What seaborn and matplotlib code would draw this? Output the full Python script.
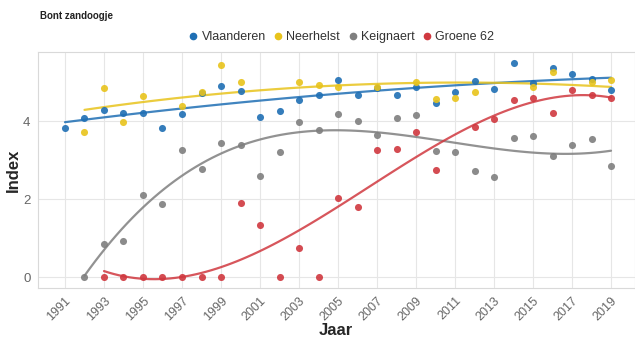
import numpy as np
import pandas as pd
import matplotlib
matplotlib.use("Agg")
import matplotlib.pyplot as plt
from matplotlib.lines import Line2D
import seaborn as sns

# Butterfly index per site, 1991-2019 (NaN = no count that year)
years = list(range(1991, 2020))
nan = np.nan

vlaanderen = [3.81, 4.08, 4.28, 4.21, 4.21, 3.83, 4.18, 4.71, 4.91, 4.77,
              4.11, 4.26, 4.54, 4.68, 5.05, 4.67, 4.85, 4.67, 4.88, 4.45,
              4.75, 5.03, 4.81, 5.49, 4.97, 5.37, 5.20, 5.08, 4.79]
neerhelst = [nan, 3.71, 4.84, 3.98, 4.65, nan, 4.38, 4.75, 5.44, 4.99,
             nan, nan, 5.01, 4.92, 4.86, nan, 4.88, nan, 5.01, 4.56,
             4.60, 4.74, nan, nan, 4.86, 5.26, nan, 4.99, 5.05]
keignaert = [nan, 0.00, 0.84, 0.93, 2.10, 1.86, 3.26, 2.77, 3.43, 3.38,
             2.59, 3.20, 3.98, 3.77, 4.17, 4.01, 3.64, 4.09, 4.15, 3.23,
             3.21, 2.72, 2.56, 3.57, 3.62, 3.10, 3.38, 3.54, 2.85]
groene62 = [nan, nan, 0.00, 0.00, 0.00, 0.00, 0.00, 0.00, 0.00, 1.91,
            1.33, 0.00, 0.75, 0.00, 2.02, 1.79, 3.26, 3.28, 3.73, 2.75,
            nan, 3.84, 4.04, 4.54, 4.60, 4.20, 4.79, 4.67, 4.60]

series_names = ["Vlaanderen", "Neerhelst", "Keignaert", "Groene 62"]
series_values = [vlaanderen, neerhelst, keignaert, groene62]
colors = ["#1f6fb4", "#e8c31c", "#7f7f7f", "#d0383f"]
fit_orders = [2, 2, 3, 3]

x_ticks = list(range(1991, 2020, 2))
y_ticks = [0, 2, 4]

df = pd.DataFrame({"Jaar": years})
for name, vals in zip(series_names, series_values):
    df[name] = vals

sns.set_theme(style="white")
plt.rcParams["font.family"] = ["Liberation Sans", "DejaVu Sans"]

fig = plt.figure(figsize=(6.35, 3.42), dpi=100)
ax = fig.add_axes([37.5 / 635, 1 - 288 / 342, (635 - 37.5) / 635, (288 - 52) / 342])

# Polynomial trend per site on top of the yearly points
for name, col, order in zip(series_names, colors, fit_orders):
    sns.regplot(data=df, x="Jaar", y=name, order=order, ci=None, ax=ax,
                color=col,
                scatter_kws=dict(s=26, alpha=0.9, linewidths=0, zorder=3),
                line_kws=dict(lw=1.6, alpha=0.85, zorder=2))

ax.set_xlim(1989.59, 2020.23)
ax.set_ylim(-0.282, 5.77)
ax.set_xticks(x_ticks)
ax.set_xticklabels([str(t) for t in x_ticks], rotation=45, ha="right",
                   rotation_mode="anchor", fontsize=9, color="#666666")
ax.set_yticks(y_ticks)
ax.set_yticklabels([str(t) for t in y_ticks], fontsize=9.5, color="#666666")
ax.grid(True, color="#e6e6e6", lw=0.8)
ax.set_axisbelow(True)
for sp in ax.spines.values():
    sp.set_color("#d9d9d9")
    sp.set_linewidth(0.8)
ax.tick_params(axis="both", length=3, width=0.7, color="#cccccc", pad=2)

ax.set_xlabel("Jaar", fontsize=12, fontweight="bold", labelpad=0)
ax.set_ylabel("Index", fontsize=12, fontweight="bold", labelpad=2)

fig.text(40 / 635, 1 - 16 / 342, "Bont zandoogje", fontsize=7,
         fontweight="bold", va="center", ha="left", color="#222222")

handles = [Line2D([0], [0], marker="o", ls="", color=c, markersize=4.5)
           for c in colors]
fig.legend(handles, series_names, loc="center", ncol=4,
           bbox_to_anchor=(340 / 635, 1 - 37 / 342), frameon=False,
           fontsize=9, handletextpad=0.05, columnspacing=0.4,
           handlelength=1.2, labelcolor="#333333")

fig.savefig("out.png", dpi=100)
